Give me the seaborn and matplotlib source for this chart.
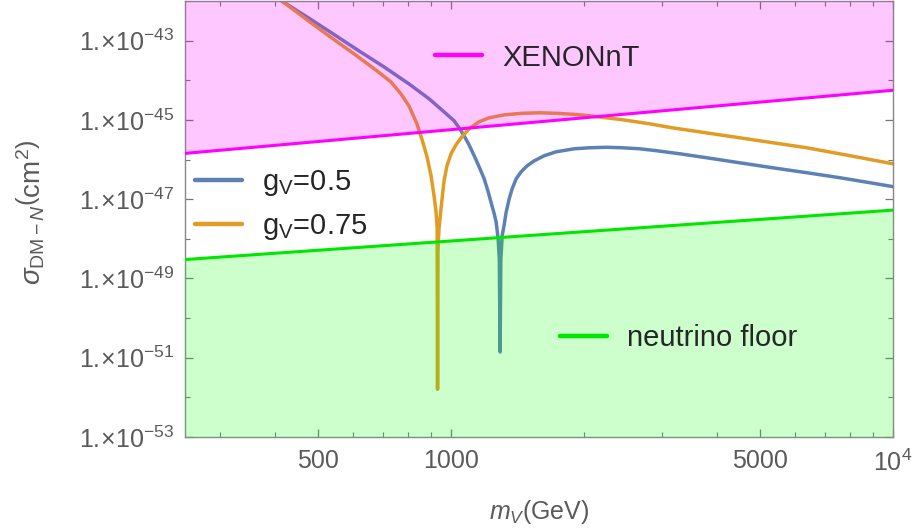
import matplotlib
matplotlib.use('Agg')
import matplotlib.pyplot as plt
import seaborn as sns
from matplotlib.lines import Line2D

# masa del mediador (GeV) y seccion eficaz (cm^2)
blue_mass = [414, 476, 537, 619, 705, 803, 892, 964, 1016, 1043, 1070, 1098, 1128, 1157, 1188,
             1213, 1232, 1252, 1265, 1278, 1286, 1291, 1296, 1305, 1319, 1332, 1354, 1375, 1404,
             1441, 1487, 1543, 1625, 1730, 1900, 2055, 2247, 2443, 2669, 2918, 3289, 3787, 4497,
             5343, 6383, 7580, 8872, 10000]
blue_sigma = [1.0e-42, 3.73e-43, 1.56e-43, 5.5e-44, 2.18e-44, 8.1e-45, 3.4e-45, 1.6e-45, 9.5e-46,
              6.3e-46, 4.0e-46, 2.36e-46, 1.25e-46, 6.6e-47, 3.3e-47, 1.55e-47, 8.2e-48, 4.3e-48,
              2.6e-48, 1.0e-48, 3e-49, 1.4e-51, 3e-49, 1.2e-48, 2.28e-48, 4.6e-48, 1.03e-47,
              1.84e-47, 3.28e-47, 4.93e-47, 6.98e-47, 9.3e-47, 1.25e-46, 1.57e-46, 1.87e-46,
              1.98e-46, 2.04e-46, 1.98e-46, 1.87e-46, 1.67e-46, 1.4e-46, 1.11e-46, 8.3e-47,
              6.2e-47, 4.65e-47, 3.48e-47, 2.6e-47, 2.07e-47]

orange_mass = [414, 476, 537, 612, 680, 731, 770, 803, 837, 864, 882, 901, 915, 925, 930, 932,
               934, 939, 944, 949, 957, 964, 979, 1000, 1026, 1054, 1098, 1157, 1219, 1319, 1449,
               1583, 1730, 1900, 2055, 2443, 2812, 3171, 3651, 4497, 6383, 7990, 10000]
orange_sigma = [1.0e-42, 3.13e-43, 1.17e-43, 4.12e-44, 1.72e-44, 9.1e-45, 4.54e-45, 2.26e-45,
                8.0e-46, 2.65e-46, 1.18e-46, 3.9e-47, 1.22e-47, 4.6e-48, 1.9e-48, 1.6e-52, 5e-49,
                1.8e-48, 3.2e-48, 5.8e-48, 1.38e-47, 2.9e-47, 7.0e-47, 1.4e-46, 2.36e-46, 3.54e-46,
                5.97e-46, 8.95e-46, 1.13e-45, 1.34e-45, 1.47e-45, 1.51e-45, 1.47e-45, 1.38e-45,
                1.27e-45, 1.01e-45, 7.98e-46, 6.3e-46, 5.0e-46, 3.54e-46, 1.98e-46, 1.25e-46, 7.8e-47]

xenon_mass = [250, 10000]
xenon_sigma = [1.43e-46, 5.6e-45]

nu_mass = [250, 10000]
nu_sigma = [3.0e-49, 5.3e-48]

y_tick_exp = [-53, -51, -49, -47, -45, -43]
y_minor_exp = [-52, -50, -48, -46, -44, -42]
x_ticks = [500, 1000, 5000, 10000]
x_tick_labels = ['500', '1000', '5000', '$10^4$']
x_minor = [300, 400, 600, 700, 800, 900, 2000, 3000, 4000, 6000, 7000, 8000, 9000]

BLUE = '#5E81B5'
ORANGE = '#E19C24'
MAGENTA = '#FF00FF'
GREEN = '#00E600'
GRAY = '#5a5a5a'

sns.set_theme(style="ticks")
plt.rcParams['font.family'] = ['Liberation Sans', 'DejaVu Sans']
plt.rcParams['mathtext.fontset'] = 'custom'
plt.rcParams['mathtext.rm'] = 'Liberation Sans'
plt.rcParams['mathtext.it'] = 'Liberation Sans:italic'
plt.rcParams['mathtext.bf'] = 'Liberation Sans:bold'

fig = plt.figure(figsize=(9.14, 5.31), dpi=100)
ax = fig.add_axes([185 / 914, 94 / 531, 708 / 914, 436 / 531])
ax.set_xscale('log')
ax.set_yscale('log')

# curvas de g_V
sns.lineplot(x=blue_mass, y=blue_sigma, ax=ax, color=BLUE, lw=2.5, sort=False, legend=False, zorder=2)
sns.lineplot(x=orange_mass, y=orange_sigma, ax=ax, color=ORANGE, lw=2.5, sort=False, legend=False, zorder=2)

# regiones excluidas (encima de las curvas, translucidas)
ax.fill_between(xenon_mass, xenon_sigma, 1e-42, color=MAGENTA, alpha=0.22, lw=0, zorder=3)
ax.fill_between(nu_mass, 1e-53, nu_sigma, color=(0, 1, 0), alpha=0.2, lw=0, zorder=3)
sns.lineplot(x=xenon_mass, y=xenon_sigma, ax=ax, color=MAGENTA, lw=2.2, legend=False, zorder=4)
sns.lineplot(x=nu_mass, y=nu_sigma, ax=ax, color=GREEN, lw=2.2, legend=False, zorder=4)

ax.set_xlim(250, 1e4)
ax.set_ylim(1e-53, 1e-42)

# ticks al estilo Mathematica
ax.set_yticks([10.0 ** e for e in y_tick_exp])
ax.set_yticklabels([r'$1.\!{\times}10^{%d}$' % e for e in y_tick_exp])
ax.set_yticks([10.0 ** e for e in y_minor_exp], minor=True)
ax.set_xticks(x_ticks)
ax.set_xticklabels(x_tick_labels)
ax.set_xticks(x_minor, minor=True)
ax.set_xticklabels([], minor=True)
ax.set_yticklabels([], minor=True)
ax.tick_params(which='both', direction='in', top=True, right=True, colors='#777777',
               labelcolor=GRAY, labelsize=18)
ax.tick_params(which='major', length=5.5, width=0.9)
ax.tick_params(which='minor', length=3.5, width=0.8)
ax.tick_params(axis='x', pad=9)
ax.tick_params(axis='y', pad=8)
for s in ax.spines.values():
    s.set_color('#888888')
    s.set_linewidth(1.0)

ax.set_xlabel(r'$m_V$(GeV)', fontsize=18, color=GRAY)
ax.set_ylabel(r'$\sigma_{\mathrm{DM}-N}\left(\mathrm{cm}^2\right)$', fontsize=20, color=GRAY)
ax.xaxis.set_label_coords(0.5, -0.14)
ax.yaxis.set_label_coords(-0.195, 0.515)

# leyendas dentro del grafico
common = dict(loc='center left', frameon=False, fontsize=21, handlelength=1.6,
              handletextpad=0.7, borderpad=0, borderaxespad=0)
leg1 = ax.legend(handles=[Line2D([], [], color=MAGENTA, lw=3.2)], labels=['XENONnT'],
                 bbox_to_anchor=(0.353, 0.870), **common)
ax.add_artist(leg1)
leg2 = ax.legend(handles=[Line2D([], [], color=BLUE, lw=3.2), Line2D([], [], color=ORANGE, lw=3.2)],
                 labels=[r'g$_{\mathrm{V}}$=0.5', r'g$_{\mathrm{V}}$=0.75'],
                 bbox_to_anchor=(0.014, 0.532), labelspacing=0.5, **common)
ax.add_artist(leg2)
leg3 = ax.legend(handles=[Line2D([], [], color=GREEN, lw=3.2)], labels=['neutrino floor'],
                 bbox_to_anchor=(0.530, 0.2265), **common)

plt.savefig('out.png', dpi=100)
